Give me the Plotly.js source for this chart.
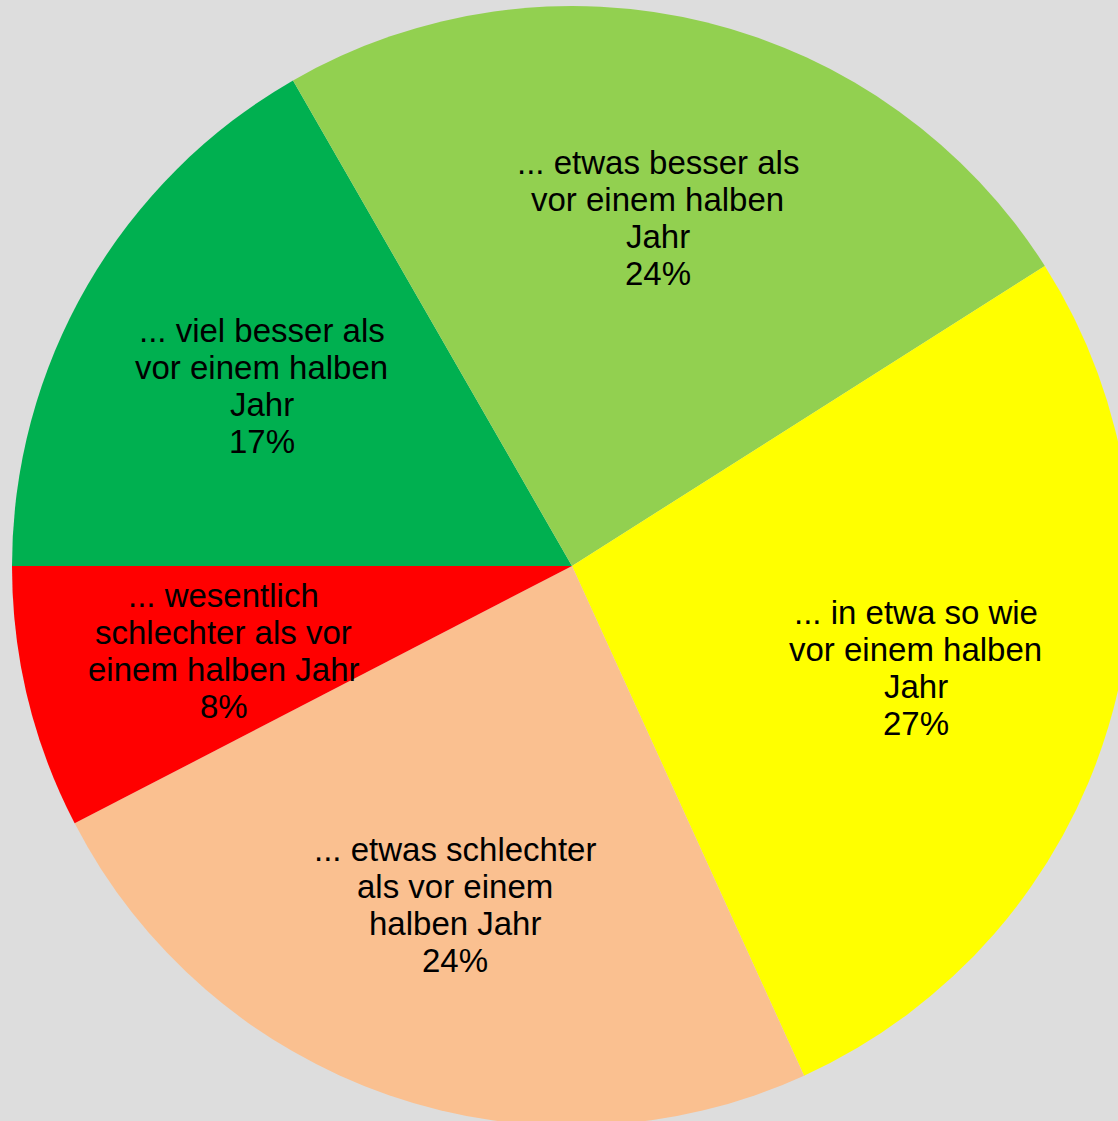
<!DOCTYPE html>
<html>
<head>
<meta charset="utf-8">
<script src="https://cdn.plot.ly/plotly-3.0.1.min.js"></script>
<style>
html, body { margin: 0; padding: 0; overflow: hidden; background: #dddddd; }
#chart { width: 1144px; height: 1132px; }
</style>
</head>
<body>
<div id="chart"></div>
<script>
// Categories (slice order, clockwise starting at 9 o'clock)
const categories = [
  "... viel besser als vor einem halben Jahr",
  "... etwas besser als vor einem halben Jahr",
  "... in etwa so wie vor einem halben Jahr",
  "... etwas schlechter als vor einem halben Jahr",
  "... wesentlich schlechter als vor einem halben Jahr"
];
// Label lines as wrapped in the reference
const labelLines = [
  ["... viel besser als", "vor einem halben", "Jahr"],
  ["... etwas besser als", "vor einem halben", "Jahr"],
  ["... in etwa so wie", "vor einem halben", "Jahr"],
  ["... etwas schlechter", "als vor einem", "halben Jahr"],
  ["... wesentlich", "schlechter als vor", "einem halben Jahr"]
];
// Shares (percent)
const values = [16.7, 24.3, 27.2, 24.2, 7.6];
const colors = ["#00B050", "#92D050", "#FFFF00", "#FAC090", "#FF0000"];

const FONT = "Liberation Sans, Arial, sans-serif";
const FONT_SIZE = 33;
const LINE_H = 37;
const LABEL_R = 0.64;   // label distance as fraction of radius
const ROTATION = 270;   // degrees clockwise from 12 o'clock

const total = values.reduce((a, b) => a + b, 0);
const annotations = [];
let acc = 0;
values.forEach((v, i) => {
  const mid = (ROTATION + (acc + v / 2) / total * 360) * Math.PI / 180;
  acc += v;
  const px = 0.5 + LABEL_R * 0.5 * Math.sin(mid);
  const py = 0.5 + LABEL_R * 0.5 * Math.cos(mid);
  const lines = labelLines[i].concat([Math.round(v / total * 100) + "%"]);
  const n = lines.length;
  lines.forEach((t, j) => {
    annotations.push({
      xref: "paper", yref: "paper", x: px, y: py,
      xanchor: "center", yanchor: "middle",
      yshift: ((n - 1) / 2 - j) * LINE_H,
      text: t, showarrow: false,
      font: { family: FONT, size: FONT_SIZE, color: "#000000" }
    });
  });
});

const trace = {
  type: "pie",
  labels: categories,
  values: values,
  sort: false,
  direction: "clockwise",
  rotation: ROTATION,
  marker: { colors: colors, line: { width: 0 } },
  textinfo: "none",
  hoverinfo: "label+percent",
  domain: { x: [0, 1], y: [0, 1] }
};

const layout = {
  width: 1144,
  height: 1132,
  margin: { l: 12, r: 12, t: 6, b: 6 },
  paper_bgcolor: "#dddddd",
  plot_bgcolor: "#dddddd",
  showlegend: false,
  annotations: annotations,
  font: { family: FONT }
};

Plotly.newPlot("chart", [trace], layout, { displayModeBar: false, staticPlot: true });
</script>
</body>
</html>
